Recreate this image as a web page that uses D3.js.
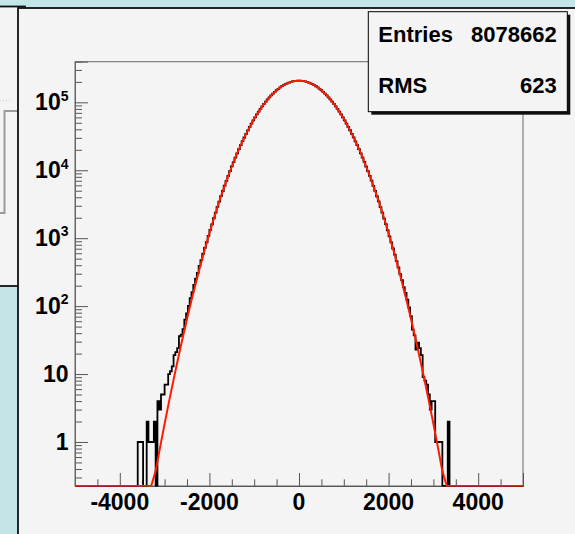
<!DOCTYPE html>
<html><head><meta charset="utf-8">
<script src="https://cdn.jsdelivr.net/npm/d3@7"></script>
<style>html,body{margin:0;padding:0;background:#c3e5e8;overflow:hidden}</style>
</head><body><svg id="c" width="575" height="534"></svg>
<script>
// ---------- data ----------
const binLow = -5000;
const binWidth = 40;
const counts = [
  0,0,0,0,0,0,0,0,0,0,
  0,0,0,0,0,0,0,0,0,0,
  0,0,0,0,0,0,0,0,0,0,
  0,0,0,0,0,1,1,1,0,0,
  2,1,1,1,2,0,4,3,5,5,
  7,7,10,11,13,19,21,24,36,38,
  46,63,78,101,131,160,205,254,308,391,
  476,590,722,871,1081,1322,1598,1966,2371,2889,
  3452,4170,4951,5921,6987,8271,9688,11380,13210,15390,
  17720,20460,23390,26760,30350,34430,38750,43570,48650,54260,
  60090,66420,72990,80010,87190,94800,102460,110450,118420,126610,
  134630,142740,150540,158270,165560,172630,179090,185190,190570,195420,
  199450,202830,205290,207050,207860,207920,206980,205350,202770,199510,
  195350,190640,185130,179160,172550,165640,158190,150610,142650,134710,
  126530,118500,110380,102530,94720,87260,79940,73050,66360,60150,
  54190,48720,43510,38810,34370,30410,26700,23440,20410,17770,
  15330,13250,11340,9718,8240,7015,5890,4979,4141,3478,
  2862,2384,1947,1613,1302,1062,866,705,571,458,
  371,296,241,190,157,124,96,71,45,37,
  23,29,24,19,9,8,7,5,3,4,
  4,1,1,1,1,0,0,0,2,0,
  0,0,0,0,0,0,0,0,0,0,
  0,0,0,0,0,0,0,0,0,0,
  0,0,0,0,0,0,0,0,0,0,
  0,0,0,0,0,0,0,0,0,0
];
const fitConstant = 208000;
const fitMean = 0;
const fitSigma = 622;
const fitNpx = 100;
const xDomain = [-5000, 5000];
const yDomain = [0.2249, 3.963e5];
const xMajorTicks = [-4000, -2000, 0, 2000, 4000];
const xMinorStep = 500;
const yDecades = [0, 1, 2, 3, 4, 5];
const statsLabels = ["Entries", "RMS"];
const statsValues = ["8078662", "623"];

// ---------- layout ----------
const svg = d3.select("#c");
const F = "'Liberation Sans', Arial, Helvetica, sans-serif";
const frame = {l: 75, r: 523, t: 61.7, b: 486};

// neighbouring pad (partly visible)
svg.append("rect").attr("x", -5).attr("y", 6.5).attr("width", 30).attr("height", 279.5)
  .attr("fill", "#f4f4f4").attr("stroke", "#111").attr("stroke-width", 1.8);
svg.append("path").attr("d", "M0,100.5H12").attr("stroke", "#ccc").attr("stroke-dasharray", "1,2").attr("fill", "none");
svg.append("path").attr("d", "M18,111H4.5V213H0").attr("stroke", "#9a9a9a").attr("stroke-width", 2).attr("fill", "none");

// main pad
svg.append("rect").attr("x", 18).attr("y", 8).attr("width", 570).attr("height", 540)
  .attr("fill", "#f4f4f4").attr("stroke", "#111").attr("stroke-width", 1.8);

const x = d3.scaleLinear().domain(xDomain).range([frame.l, frame.r]);
const y = d3.scaleLog().domain(yDomain).range([frame.b, frame.t]);

svg.append("defs").append("clipPath").attr("id", "fclip").append("rect")
  .attr("x", frame.l - 1).attr("y", frame.t - 2).attr("width", frame.r - frame.l + 2).attr("height", frame.b - frame.t + 2.6);

// frame
svg.append("rect").attr("x", frame.l).attr("y", frame.t)
  .attr("width", frame.r - frame.l).attr("height", frame.b - frame.t)
  .attr("fill", "none").attr("stroke", "#666").attr("stroke-width", 1);

// x axis ticks
const xMinor = d3.range(xDomain[0], xDomain[1] + 1, xMinorStep).filter(v => !xMajorTicks.includes(v));
const gx = svg.append("g").attr("transform", `translate(0,${frame.b})`);
gx.call(d3.axisBottom(x).tickValues(xMinor).tickSize(-6.7).tickFormat(""));
gx.call(g => g.append("g").call(d3.axisBottom(x).tickValues(xMajorTicks).tickSize(-13).tickFormat("")));
gx.selectAll("path.domain").attr("stroke", "#555");
gx.selectAll(".tick line").attr("stroke", "#555");
svg.append("g").selectAll("text").data(xMajorTicks).join("text")
  .attr("x", d => x(d)).attr("y", 510).attr("text-anchor", "middle")
  .attr("font-family", F).attr("font-weight", "bold").attr("font-size", 23).attr("fill", "#000")
  .text(d => d3.format("")(d).replace("−", "-"));

// y axis ticks
const yMinor = [];
for (let d = -1; d <= 5; d++) for (let m = 2; m <= 9; m++) {
  const v = m * Math.pow(10, d);
  if (v > yDomain[0] && v < yDomain[1]) yMinor.push(v);
}
const yMajor = yDecades.map(d => Math.pow(10, d));
const gy = svg.append("g").attr("transform", `translate(${frame.l},0)`);
gy.call(d3.axisLeft(y).tickValues(yMinor).tickSize(-7).tickFormat(""));
gy.call(g => g.append("g").call(d3.axisLeft(y).tickValues(yMajor).tickSize(-13).tickFormat("")));
gy.selectAll("path.domain").attr("stroke", "#666");
gy.selectAll(".tick line").attr("stroke", "#555");

const yl = svg.append("g").selectAll("text").data(yDecades).join("text")
  .attr("x", 68.5).attr("y", d => y(Math.pow(10, d)) + 7.8).attr("text-anchor", "end")
  .attr("font-family", F).attr("font-weight", "bold").attr("font-size", 23).attr("fill", "#000");
yl.each(function(d) {
  const t = d3.select(this);
  if (d === 0) t.text("1");
  else if (d === 1) t.text("10");
  else {
    t.append("tspan").text("10");
    t.append("tspan").attr("font-size", 14).attr("dy", -9.5).text(String(d));
  }
});

const plot = svg.append("g").attr("clip-path", "url(#fclip)");

// histogram (step outline)
const pts = [];
counts.forEach((c, i) => {
  const x0 = binLow + i * binWidth, x1 = x0 + binWidth;
  const v = Math.max(c, yDomain[0]);
  pts.push([x(x0), y(v)], [x(x1), y(v)]);
});
pts.unshift([x(binLow), y(yDomain[0])]);
pts.push([x(binLow + counts.length * binWidth), y(yDomain[0])]);
plot.append("path").attr("d", d3.line()(pts))
  .attr("fill", "none").attr("stroke", "#000").attr("stroke-width", 1.8).attr("stroke-linejoin", "miter");

// fit function
const fx = d3.range(fitNpx + 1).map(j => xDomain[0] + j * (xDomain[1] - xDomain[0]) / fitNpx);
const fitPts = fx.map(v => {
  const f = fitConstant * Math.exp(-Math.pow(v - fitMean, 2) / (2 * fitSigma * fitSigma));
  return [x(v), y(Math.min(Math.max(f, yDomain[0]), yDomain[1]))];
});
plot.append("path").attr("d", d3.line()(fitPts))
  .attr("fill", "none").attr("stroke", "#ff1a00").attr("stroke-width", 2);

// stats box
const sb = {x: 368.3, y: 11.7, w: 199, h: 100};
svg.append("rect").attr("x", sb.x + 3).attr("y", sb.y + 3).attr("width", sb.w).attr("height", sb.h).attr("fill", "#111");
svg.append("rect").attr("x", sb.x).attr("y", sb.y).attr("width", sb.w).attr("height", sb.h)
  .attr("fill", "#f4f4f4").attr("stroke", "#000").attr("stroke-width", 1);
const rowsY = [41.7, 93.3];
svg.append("g").selectAll("text").data(statsLabels).join("text")
  .attr("x", 378.3).attr("y", (d, i) => rowsY[i])
  .attr("font-family", F).attr("font-weight", "bold").attr("font-size", 22).text(d => d);
svg.append("g").selectAll("text").data(statsValues).join("text")
  .attr("x", 556.7).attr("y", (d, i) => rowsY[i]).attr("text-anchor", "end")
  .attr("font-family", F).attr("font-weight", "bold").attr("font-size", 22).text(d => d);
</script></body></html>
